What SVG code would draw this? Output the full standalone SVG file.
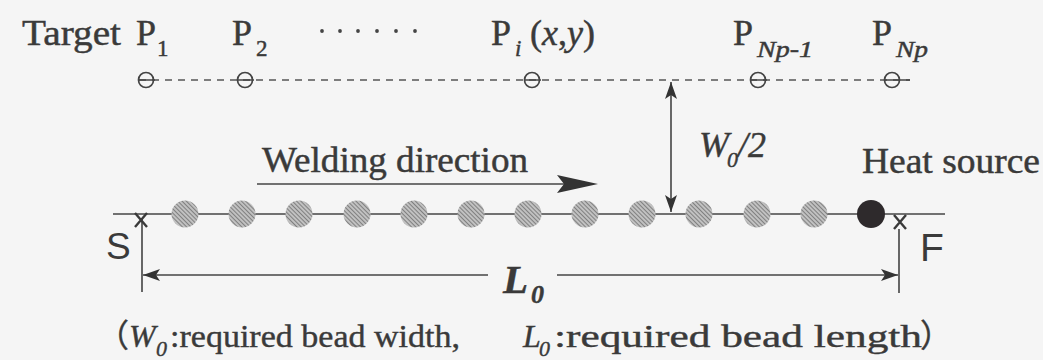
<svg xmlns="http://www.w3.org/2000/svg" width="1043" height="360" viewBox="0 0 1043 360">
<defs>
<style>
.t{font-family:"Liberation Serif","Times New Roman",serif;fill:#3a3a3a;stroke:#3a3a3a;stroke-width:0.45}
.i{font-style:italic}
.s{font-family:"Liberation Sans",Arial,sans-serif;fill:#3a3a3a}
.cj{font-family:"Liberation Serif","Noto Sans CJK JP",serif;fill:#3a3a3a;stroke:#3a3a3a;stroke-width:0.4}
.ln{stroke:#444;stroke-width:1.6;fill:none}
.xm{stroke:#3a3a3a;stroke-width:2.4;fill:none}
.dash{stroke:#555;stroke-width:1.5;stroke-dasharray:7 6;fill:none}
.pt{stroke:#444;stroke-width:1.7;fill:none}
.bead{fill:url(#hatch)}
</style>
<pattern id="hatch" patternUnits="userSpaceOnUse" width="3" height="3" patternTransform="rotate(45)">
<rect width="3" height="3" fill="#cdcdcd"/>
<line x1="0" y1="1.5" x2="3" y2="1.5" stroke="#808080" stroke-width="1.3"/>
</pattern>
<marker id="ah" viewBox="0 0 17 12" refX="17" refY="6" markerWidth="17" markerHeight="12" markerUnits="userSpaceOnUse" orient="auto-start-reverse">
<path d="M0,0 L17,6 L0,12 L4,6 Z" fill="#333"/>
</marker>
</defs>
<rect width="1043" height="360" fill="#f5f5f5"/>

<g id="labels-top">
<text class="t" x="22" y="45" font-size="36" textLength="99" lengthAdjust="spacingAndGlyphs">Target</text>
<text class="t" x="136" y="45" font-size="36">P<tspan x="157" y="56" font-size="23">1</tspan></text>
<text class="t" x="232" y="45" font-size="36">P<tspan x="256" y="56" font-size="23">2</tspan></text>
<g id="dots" fill="#444">
<circle cx="322" cy="31" r="1.9"/><circle cx="340" cy="31" r="1.9"/><circle cx="358" cy="31" r="1.9"/>
<circle cx="377" cy="31" r="1.9"/><circle cx="396" cy="31" r="1.9"/><circle cx="415" cy="31" r="1.9"/>
</g>
<text class="t" x="491" y="45" font-size="36">P<tspan class="i" x="515" y="56" font-size="23">i</tspan><tspan x="530" y="45">(</tspan><tspan class="i">x</tspan><tspan>,</tspan><tspan class="i">y</tspan><tspan>)</tspan></text>
<text class="t" x="733" y="45" font-size="36">P<tspan class="i" x="757" y="57" font-size="23" textLength="56" lengthAdjust="spacingAndGlyphs">Np-1</tspan></text>
<text class="t" x="872" y="45" font-size="36">P<tspan class="i" x="896" y="57" font-size="23" textLength="32" lengthAdjust="spacingAndGlyphs">Np</tspan></text>
</g>

<g id="targets">
<path class="dash" d="M139,80 H910"/>
<path class="ln" d="M139,80 H155 M238,80 H254 M525,80 H541 M751,80 H767 M885,80 H910"/>
<circle class="pt" cx="146" cy="80" r="7.5"/>
<circle class="pt" cx="245" cy="80" r="7.5"/>
<circle class="pt" cx="532" cy="80" r="7.5"/>
<circle class="pt" cx="758" cy="80" r="7.5"/>
<circle class="pt" cx="892" cy="80" r="7.5"/>
</g>

<g id="connectors">
<path class="ln" d="M113,214 H945"/>
<path class="ln" d="M671,82 V212" marker-start="url(#ah)" marker-end="url(#ah)"/>
<path class="ln" d="M257,184 H565" stroke-width="2"/>
<path d="M598,184 L557,175 L564,184 L557,193 Z" fill="#333"/>
<path class="ln" d="M142,218 V292 M899,229 V293"/>
<path class="ln" d="M143,275 H488" marker-start="url(#ah)"/>
<path class="ln" d="M557,275 H898" marker-end="url(#ah)"/>
<path class="xm" d="M135,213 L147,227 M147,213 L135,227"/>
<path class="xm" d="M894,215 L906,229 M906,215 L894,229"/>
</g>

<g id="beads">
<circle class="bead" cx="185" cy="214" r="13.5"/>
<circle class="bead" cx="242" cy="214" r="13.5"/>
<circle class="bead" cx="299" cy="214" r="13.5"/>
<circle class="bead" cx="357" cy="214" r="13.5"/>
<circle class="bead" cx="414" cy="214" r="13.5"/>
<circle class="bead" cx="471" cy="214" r="13.5"/>
<circle class="bead" cx="528" cy="214" r="13.5"/>
<circle class="bead" cx="585" cy="214" r="13.5"/>
<circle class="bead" cx="642" cy="214" r="13.5"/>
<circle class="bead" cx="699" cy="214" r="13.5"/>
<circle class="bead" cx="757" cy="214" r="13.5"/>
<circle class="bead" cx="814" cy="214" r="13.5"/>
</g>
<g id="heat-source">
<circle cx="871" cy="214" r="14" fill="#2e2a2c"/>
<text class="t" x="862" y="173" font-size="35" textLength="178" lengthAdjust="spacingAndGlyphs">Heat source</text>
</g>

<g id="labels">
<text class="t" x="262" y="172" font-size="35" textLength="266" lengthAdjust="spacingAndGlyphs">Welding direction</text>
<text class="t i" x="699" y="157" font-size="36">W<tspan x="727" y="167" font-size="22">0</tspan><tspan x="738" y="157">/2</tspan></text>
<text class="s" x="106" y="259" font-size="37">S</text>
<text class="s" x="920" y="261" font-size="39">F</text>
<text class="t i" x="503" y="293" font-size="41" font-weight="bold">L<tspan x="531" y="303" font-size="26">0</tspan></text>
</g>

<g id="note">
<text class="cj" y="347" font-size="32"><tspan x="97">（</tspan><tspan class="i" x="129">W</tspan><tspan class="i" x="156" y="356" font-size="22">0</tspan><tspan x="170" y="347" textLength="290" lengthAdjust="spacingAndGlyphs">:required bead width,</tspan><tspan class="i" x="523">L</tspan><tspan class="i" x="539" y="356" font-size="22">0</tspan><tspan x="554" y="347" textLength="368" lengthAdjust="spacingAndGlyphs">:required bead length</tspan><tspan x="920">）</tspan></text>
</g>
</svg>
